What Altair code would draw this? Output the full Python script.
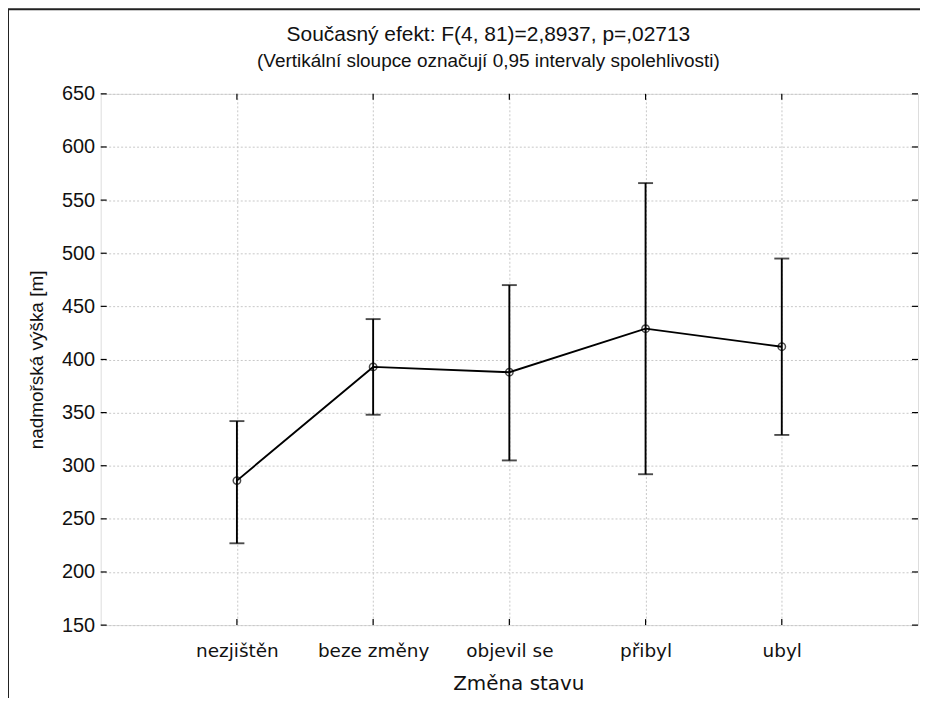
import altair as alt
import pandas as pd

categories = ["nezjištěn", "beze změny", "objevil se", "přibyl", "ubyl"]
means = [286, 393, 388, 429, 412]
lower = [227, 348, 305, 292, 329]
upper = [342, 438, 470, 566, 495]
y_ticks = [150, 200, 250, 300, 350, 400, 450, 500, 550, 600, 650]

df = pd.DataFrame({"cat": categories, "mean": means, "lo": lower, "hi": upper})
ticks_df = pd.DataFrame({"v": y_ticks})

W, H = 820, 533

xscale = alt.Scale(type="point", padding=1, domain=categories)
yscale = alt.Scale(domain=[150, 650], nice=False, zero=False)

x_enc = alt.X("cat:N", scale=xscale, sort=categories,
              axis=alt.Axis(title="Změna stavu", labelAngle=0, labelFont="DejaVu Sans",
                            labelFontSize=18.5, labelColor="#111", labelPadding=16,
                            titleFont="DejaVu Sans", titleFontSize=20, titleFontWeight="normal",
                            titleColor="#111", titlePadding=14, titleX=W / 2 + 9,
                            ticks=False, domain=False,
                            grid=True, gridColor="#c8c8c8", gridDash=[2, 2], gridWidth=1))
y_axis = alt.Axis(title="nadmořská výška [m]", values=y_ticks, labelFont="Liberation Sans",
                  labelFontSize=20, labelColor="#111", labelPadding=6, ticks=False, domain=False,
                  titleFont="Liberation Sans", titleFontSize=19, titleFontWeight="normal",
                  titleColor="#111", titlePadding=15,
                  grid=True, gridColor="#c8c8c8", gridDash=[2, 2], gridWidth=1)

base = alt.Chart(df)

line = base.mark_line(color="#000", strokeWidth=1.9).encode(
    x=x_enc, y=alt.Y("mean:Q", scale=yscale, axis=y_axis))
rules = base.mark_rule(color="#000", strokeWidth=1.9).encode(
    x=alt.X("cat:N", scale=xscale, sort=categories), y=alt.Y("lo:Q", scale=yscale), y2="hi:Q")
cap_lo = base.mark_tick(color="#000", thickness=1.9, size=15).encode(
    x=alt.X("cat:N", scale=xscale, sort=categories), y=alt.Y("lo:Q", scale=yscale))
cap_hi = base.mark_tick(color="#000", thickness=1.9, size=15).encode(
    x=alt.X("cat:N", scale=xscale, sort=categories), y=alt.Y("hi:Q", scale=yscale))
points = base.mark_point(shape="circle", filled=False, color="#000", size=55, strokeWidth=1.5).encode(
    x=alt.X("cat:N", scale=xscale, sort=categories), y=alt.Y("mean:Q", scale=yscale))

tk = alt.Chart(ticks_df)
ytick_l = tk.mark_rule(color="#000", strokeWidth=1.2).encode(
    y=alt.Y("v:Q", scale=yscale), x=alt.value(0), x2=alt.value(6))
ytick_r = tk.mark_rule(color="#000", strokeWidth=1.2).encode(
    y=alt.Y("v:Q", scale=yscale), x=alt.value(W - 6), x2=alt.value(W))
xtick_b = base.mark_rule(color="#000", strokeWidth=1.2).encode(
    x=alt.X("cat:N", scale=xscale, sort=categories), y=alt.value(H - 6), y2=alt.value(H))
xtick_t = base.mark_rule(color="#000", strokeWidth=1.2).encode(
    x=alt.X("cat:N", scale=xscale, sort=categories), y=alt.value(0), y2=alt.value(6))

frame = alt.Chart(pd.DataFrame({"a": [0]})).mark_rect(fill=None, stroke="#222", strokeWidth=2).encode(
    x=alt.value(-93), x2=alt.value(840), y=alt.value(-85), y2=alt.value(640))

chart = alt.layer(frame, line, rules, cap_lo, cap_hi, points, ytick_l, ytick_r, xtick_b, xtick_t).properties(
    width=W, height=H,
    autosize=alt.AutoSizeParams(type="none"),
    padding={"left": 93, "top": 85, "right": 2, "bottom": 72},
    title=alt.TitleParams(
        text="Současný efekt: F(4, 81)=2,8937, p=,02713",
        subtitle="(Vertikální sloupce označují 0,95 intervaly spolehlivosti)",
        font="Liberation Sans", fontSize=21, fontWeight="normal", color="#111",
        subtitleFont="Liberation Sans", subtitleFontSize=19, subtitleColor="#111",
        subtitlePadding=7, anchor="middle", dx=-21, offset=-63),
).configure_view(stroke="#000", strokeWidth=1.6).configure(background="white")

chart.save("out.html", embed_options={"renderer": "svg", "actions": False})
